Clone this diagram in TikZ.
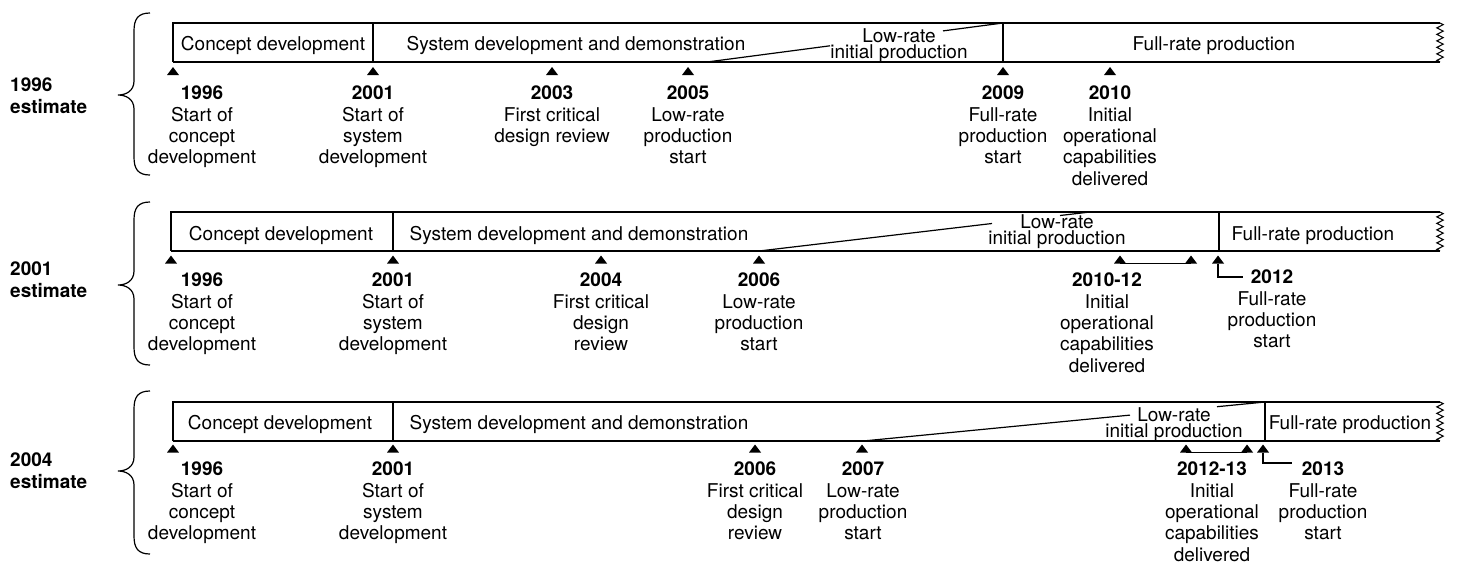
\documentclass[tikz,border=0pt]{standalone}
\usepackage{fontspec}
\setmainfont{TeX Gyre Heros}
\usetikzlibrary{decorations.pathmorphing}
\newcommand\mytri[1]{\fill[black] (#1) ++(-6,4) -- ++(12,0) -- ++(-6,-8) -- cycle;}
\begin{document}
\begin{tikzpicture}[x=1pt,y=-1pt,
  every node/.style={inner sep=0pt, text=black},
  fnt/.style={font=\fontsize{19}{21.3}\selectfont},
  lab/.style={fnt, align=center, anchor=north},
  bartext/.style={fnt, anchor=base},
  lrip/.style={font=\fontsize{19}{16}\selectfont, align=center, anchor=north},
  est/.style={font=\fontsize{19}{21.3}\selectfont\bfseries, align=left, anchor=north west},
  barline/.style={line width=1.3pt, black},
  slant/.style={line width=1.2pt, black},
  brace/.style={line width=1.2pt, black},
  zz/.style={line width=1.1pt, black, decorate, decoration={zigzag, segment length=6.5pt, amplitude=3.2pt}},
  conn/.style={line width=1.2pt, black}
]
\useasboundingbox (0,0) rectangle (1457,566);

% ---------------- Row 1: 1996 estimate ----------------
\node[est] (e1) at (10,78) {1996\\estimate};
\draw[brace] (150,13) .. controls (138,13) and (134,19) .. (134,31) -- (134,81)
  .. controls (134,91) and (126,95) .. (118,95) .. controls (126,95) and (134,99) .. (134,109)
  -- (134,157) .. controls (134,169) and (138,175) .. (150,175);

\coordinate (r1a) at (707,62);
\coordinate (r1a2) at (830,45.8);
\coordinate (r1b2) at (943,30.9);
\coordinate (r1b) at (1003,23);
\draw[slant] (r1a) -- (r1a2);
\draw[slant] (r1b2) -- (r1b);
\node[lrip] (r1l) at (899,28.4) {Low-rate\\initial production};

\draw[barline] (173,62) -- (173,23) -- (1440,23);
\draw[barline] (173,62) -- (1440,62);
\draw[barline] (373,23) -- (373,62);
\draw[barline] (1003,23) -- (1003,62);
\draw[zz] (1440,23) -- (1440,62);
\node[bartext] (r1c) at (273,50) {Concept development};
\node[bartext] (r1s) at (576,50) {System development and demonstration};
\node[bartext] (r1f) at (1214,50) {Full-rate production};

\coordinate (r1t1) at (173,71);
\coordinate (r1t2) at (373,71);
\coordinate (r1t3) at (552,71);
\coordinate (r1t4) at (688,71);
\coordinate (r1t5) at (1003,71);
\coordinate (r1t6) at (1110,71);
\mytri{r1t1}\mytri{r1t2}\mytri{r1t3}\mytri{r1t4}\mytri{r1t5}\mytri{r1t6}
\node[lab] (r1n1) at (202,86) {\textbf{1996}\\Start of\\concept\\development};
\node[lab] (r1n2) at (373,86) {\textbf{2001}\\Start of\\system\\development};
\node[lab] (r1n3) at (552,86) {\textbf{2003}\\First critical\\design review};
\node[lab] (r1n4) at (688,86) {\textbf{2005}\\Low-rate\\production\\start};
\node[lab] (r1n5) at (1003,86) {\textbf{2009}\\Full-rate\\production\\start};
\node[lab] (r1n6) at (1110,86) {\textbf{2010}\\Initial\\operational\\capabilities\\delivered};

% ---------------- Row 2: 2001 estimate ----------------
\node[est] (e2) at (10,262) {2001\\estimate};
\draw[brace] (150,202) .. controls (138,202) and (134,208) .. (134,220) -- (134,271)
  .. controls (134,281) and (126,285) .. (118,285) .. controls (126,285) and (134,289) .. (134,299)
  -- (134,347) .. controls (134,359) and (138,365) .. (150,365);

\coordinate (r2a) at (759,251);
\coordinate (r2a2) at (992,223.5);
\coordinate (r2b2) at (1060,215.5);
\coordinate (r2b) at (1090,212);
\draw[slant] (r2a) -- (r2a2);
\draw[slant] (r2b2) -- (r2b);
\node[lrip] (r2l) at (1057,214.4) {Low-rate\\initial production};

\draw[barline] (171,251) -- (171,212) -- (1440,212);
\draw[barline] (171,251) -- (1440,251);
\draw[barline] (393,212) -- (393,251);
\draw[barline] (1219,212) -- (1219,251);
\draw[zz] (1440,212) -- (1440,251);
\node[bartext] (r2c) at (281,240) {Concept development};
\node[bartext] (r2s) at (579,240) {System development and demonstration};
\node[bartext] (r2f) at (1313,240) {Full-rate production};

\coordinate (r2t1) at (171,259.5);
\coordinate (r2t2) at (393,259.5);
\coordinate (r2t3) at (601,259.5);
\coordinate (r2t4) at (759,259.5);
\coordinate (r2t5) at (1120,259.5);
\coordinate (r2t6) at (1191,259.5);
\coordinate (r2t7) at (1218,259.5);
\coordinate (r2h1) at (1120,263.5);
\coordinate (r2h2) at (1191,263.5);
\coordinate (r2k1) at (1218,263.5);
\coordinate (r2k2) at (1243,277);
\draw[conn] (r2h1) -- (r2h2);
\draw[conn] (r2k1) |- (r2k2);
\mytri{r2t1}\mytri{r2t2}\mytri{r2t3}\mytri{r2t4}\mytri{r2t5}\mytri{r2t6}\mytri{r2t7}
\node[lab] (r2n1) at (202,273) {\textbf{1996}\\Start of\\concept\\development};
\node[lab] (r2n2) at (393,273) {\textbf{2001}\\Start of\\system\\development};
\node[lab] (r2n3) at (601,273) {\textbf{2004}\\First critical\\design\\review};
\node[lab] (r2n4) at (759,273) {\textbf{2006}\\Low-rate\\production\\start};
\node[lab] (r2n5) at (1107,273) {\textbf{2010-12}\\Initial\\operational\\capabilities\\delivered};
\node[lab] (r2n6) at (1272,270) {\textbf{2012}\\Full-rate\\production\\start};

% ---------------- Row 3: 2004 estimate ----------------
\node[est] (e3) at (10,453) {2004\\estimate};
\draw[brace] (150,391) .. controls (138,391) and (134,397) .. (134,409) -- (134,457)
  .. controls (134,467) and (126,471) .. (118,471) .. controls (126,471) and (134,475) .. (134,485)
  -- (134,536) .. controls (134,548) and (138,554) .. (150,554);

\coordinate (r3a) at (863,441);
\coordinate (r3a2) at (1130,415.1);
\coordinate (r3b2) at (1217,406.7);
\coordinate (r3b) at (1265,402);
\draw[slant] (r3a) -- (r3a2);
\draw[slant] (r3b2) -- (r3b);
\node[lrip] (r3l) at (1174,407.4) {Low-rate\\initial production};

\draw[barline] (173,441) -- (173,402) -- (1440,402);
\draw[barline] (173,441) -- (1440,441);
\draw[barline] (393,402) -- (393,441);
\draw[barline] (1265,402) -- (1265,441);
\draw[zz] (1440,402) -- (1440,441);
\node[bartext] (r3c) at (280,429) {Concept development};
\node[bartext] (r3s) at (579,429) {System development and demonstration};
\node[bartext] (r3f) at (1350,429) {Full-rate production};

\coordinate (r3t1) at (173,448.5);
\coordinate (r3t2) at (393,448.5);
\coordinate (r3t3) at (755,448.5);
\coordinate (r3t4) at (862,448.5);
\coordinate (r3t5) at (1186,448.5);
\coordinate (r3t6) at (1247,448.5);
\coordinate (r3t7) at (1263,448.5);
\coordinate (r3h1) at (1186,452.5);
\coordinate (r3h2) at (1247,452.5);
\coordinate (r3k1) at (1263,452.5);
\coordinate (r3k2) at (1292,463);
\draw[conn] (r3h1) -- (r3h2);
\draw[conn] (r3k1) |- (r3k2);
\mytri{r3t1}\mytri{r3t2}\mytri{r3t3}\mytri{r3t4}\mytri{r3t5}\mytri{r3t6}\mytri{r3t7}
\node[lab] (r3n1) at (202,462) {\textbf{1996}\\Start of\\concept\\development};
\node[lab] (r3n2) at (393,462) {\textbf{2001}\\Start of\\system\\development};
\node[lab] (r3n3) at (755,462) {\textbf{2006}\\First critical\\design\\review};
\node[lab] (r3n4) at (863,462) {\textbf{2007}\\Low-rate\\production\\start};
\node[lab] (r3n5) at (1212,462) {\textbf{2012-13}\\Initial\\operational\\capabilities\\delivered};
\node[lab] (r3n6) at (1323,462) {\textbf{2013}\\Full-rate\\production\\start};
\end{tikzpicture}
\end{document}
